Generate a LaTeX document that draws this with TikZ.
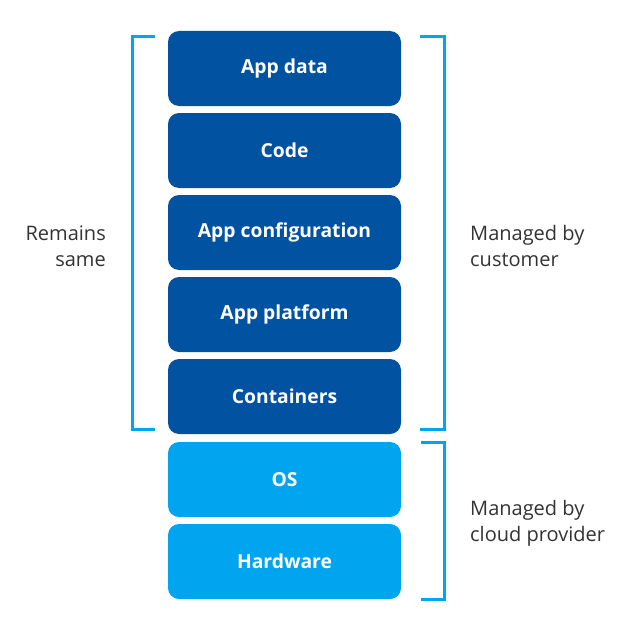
\documentclass[tikz,border=0pt]{standalone}
\usepackage{fontspec}
\setmainfont{Open Sans}
\begin{document}
\begin{tikzpicture}[x=1pt,y=-1pt,
  layer/.style={rounded corners=11pt,minimum width=233pt,minimum height=75pt,inner sep=0pt,
    text=white,font=\fontsize{19.3}{22}\selectfont\bfseries},
  dark/.style={layer,fill=darkblue},
  light/.style={layer,fill=lightblue},
  brk/.style={draw=lightblue,line width=3pt},
  lbl/.style={text=labelgray,font=\fontsize{20}{26}\selectfont,inner sep=0pt}]
\definecolor{darkblue}{HTML}{0152A1}
\definecolor{lightblue}{HTML}{00A4EF}
\definecolor{labelgray}{HTML}{333333}
\useasboundingbox (0,0) rectangle (640,618);
\node[dark]  (appdata) at (284.5,68.5)  {App data};
\node[dark]  (code)    at (284.5,150.5) {Code};
\node[dark]  (config)  at (284.5,232.5) {App configuration};
\node[dark]  (platform) at (284.5,314.5) {App platform};
\node[dark]  (cont)    at (284.5,396.5) {Containers};
\node[light] (os)      at (284.5,479.5) {OS};
\node[light] (hw)      at (284.5,561.5) {Hardware};
% brackets
\draw[brk] (155,37) -- (132.5,37) -- (132.5,429) -- (155,429);
\draw[brk] (420,37) -- (444.5,37) -- (444.5,429) -- (420,429);
\draw[brk] (421,442) -- (444.5,442) -- (444.5,599) -- (421,599);
\node[lbl,align=right,anchor=east] (remains) at (106,246) {Remains\\same};
\node[lbl,align=left,anchor=west] (cust) at (470,246) {Managed by\\customer};
\node[lbl,align=left,anchor=west] (cloud) at (470,523) {Managed by\\cloud provider};
\end{tikzpicture}
\end{document}
